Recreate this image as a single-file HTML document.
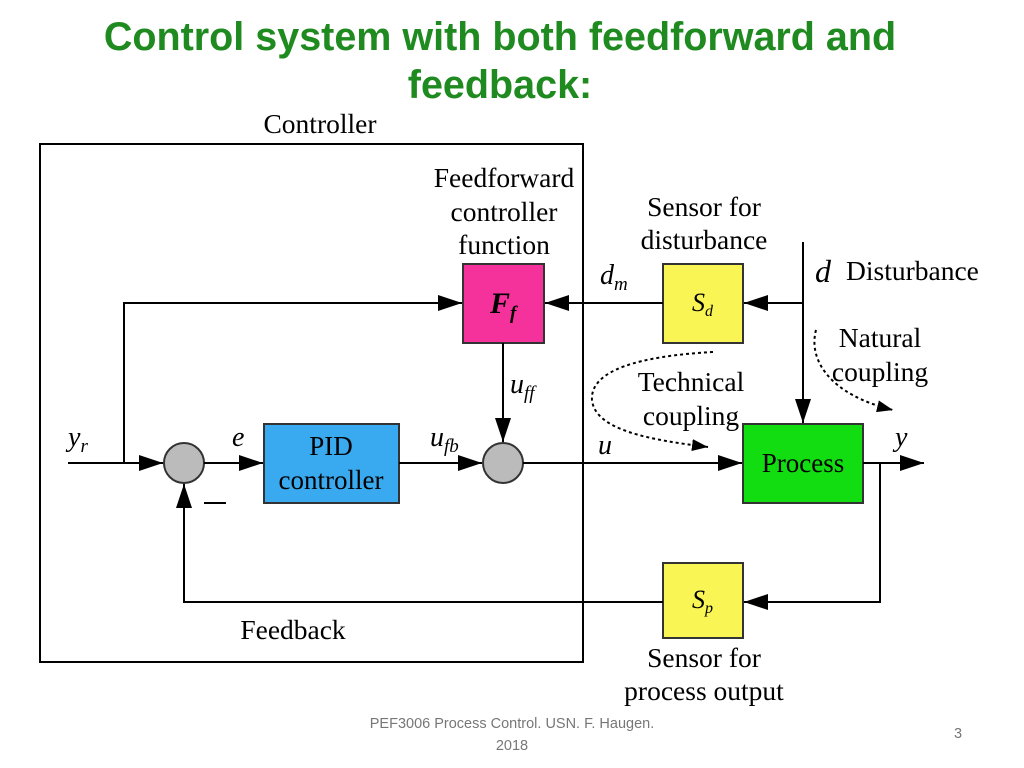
<!DOCTYPE html>
<html><head><style>body{margin:0;background:#fff}svg{display:block}</style></head>
<body>
<svg width="1024" height="768" xmlns="http://www.w3.org/2000/svg" font-family="Liberation Serif, serif">
<defs>
<marker id="b" markerWidth="24" markerHeight="16" refX="24" refY="8" orient="auto" markerUnits="userSpaceOnUse"><path d="M0,0 L24,8 L0,16 z" fill="#000"/></marker>
<marker id="c" markerWidth="16" markerHeight="12" refX="16" refY="6" orient="auto" markerUnits="userSpaceOnUse"><path d="M0,0 L16,6 L0,12 z" fill="#000"/></marker>
</defs>
<text x="500" y="50" text-anchor="middle" font-family="Liberation Sans, sans-serif" font-weight="bold" font-size="39.5" fill="#1f8a1f">Control system with both feedforward and</text>
<text x="500" y="98" text-anchor="middle" font-family="Liberation Sans, sans-serif" font-weight="bold" font-size="39.5" fill="#1f8a1f">feedback:</text>
<g font-size="27.5" fill="#000">
<text x="320" y="133" text-anchor="middle">Controller</text>
<text x="504" y="187" text-anchor="middle">Feedforward</text>
<text x="504" y="221" text-anchor="middle">controller</text>
<text x="504" y="254" text-anchor="middle">function</text>
<text x="704" y="216" text-anchor="middle">Sensor for</text>
<text x="704" y="249" text-anchor="middle">disturbance</text>
<text x="846" y="280">Disturbance</text>
<text x="880" y="347" text-anchor="middle">Natural</text>
<text x="880" y="381" text-anchor="middle">coupling</text>
<text x="691" y="391" text-anchor="middle">Technical</text>
<text x="691" y="425" text-anchor="middle">coupling</text>
<text x="293" y="639" text-anchor="middle">Feedback</text>
<text x="704" y="667" text-anchor="middle">Sensor for</text>
<text x="704" y="700" text-anchor="middle">process output</text>
</g>
<rect x="40" y="144" width="543" height="518" fill="none" stroke="#000" stroke-width="2"/>
<rect x="463" y="264" width="81" height="79" fill="#f5329b" stroke="#333" stroke-width="2"/>
<rect x="663" y="264" width="80" height="79" fill="#f8f555" stroke="#333" stroke-width="2"/>
<rect x="743" y="424" width="120" height="79" fill="#11dd11" stroke="#333" stroke-width="2"/>
<rect x="264" y="424" width="135" height="79" fill="#39aaf0" stroke="#333" stroke-width="2"/>
<rect x="663" y="563" width="80" height="75" fill="#f8f555" stroke="#333" stroke-width="2"/>
<circle cx="184" cy="463" r="20" fill="#bbb" stroke="#333" stroke-width="2"/>
<circle cx="503" cy="463" r="20" fill="#bbb" stroke="#333" stroke-width="2"/>
<g stroke="#000" stroke-width="2" fill="none">
<line x1="68" y1="463" x2="163" y2="463" marker-end="url(#b)"/>
<polyline points="124,463 124,303 462,303" marker-end="url(#b)"/>
<line x1="204" y1="463" x2="263" y2="463" marker-end="url(#b)"/>
<line x1="399" y1="463" x2="482" y2="463" marker-end="url(#b)"/>
<line x1="503" y1="343" x2="503" y2="442" marker-end="url(#b)"/>
<line x1="523" y1="463" x2="742" y2="463" marker-end="url(#b)"/>
<line x1="663" y1="303" x2="545" y2="303" marker-end="url(#b)"/>
<polyline points="803,242 803,423" marker-end="url(#b)"/>
<line x1="803" y1="303" x2="744" y2="303" marker-end="url(#b)"/>
<line x1="863" y1="463" x2="924" y2="463" marker-end="url(#b)"/>
<polyline points="880,463 880,602 744,602" marker-end="url(#b)"/>
<polyline points="663,602 184,602 184,484" marker-end="url(#b)"/>
<line x1="204" y1="503" x2="226" y2="503"/>
<path d="M713,352 C640,356 590,370 592,400 C595,430 650,440 708,447" stroke-dasharray="3,3" marker-end="url(#c)"/>
<path d="M816,330 C808,360 830,395 893,410" stroke-dasharray="3,3" marker-end="url(#c)"/>
</g>
<g font-size="28" font-style="italic">
<text x="490" y="313" font-weight="bold" font-size="30">F<tspan font-size="19" dy="6">f</tspan></text>
<text x="692" y="311" font-size="26">S<tspan font-size="16" dy="5">d</tspan></text>
<text x="692" y="608" font-size="26">S<tspan font-size="16" dy="5">p</tspan></text>
<text x="600" y="284">d<tspan font-size="19" dy="6">m</tspan></text>
<text x="815" y="282" font-size="32">d</text>
<text x="68" y="446">y<tspan font-size="19" dy="6">r</tspan></text>
<text x="232" y="446">e</text>
<text x="430" y="446">u<tspan font-size="19" dy="6">fb</tspan></text>
<text x="510" y="393">u<tspan font-size="19" dy="6">ff</tspan></text>
<text x="598" y="454">u</text>
<text x="895" y="446">y</text>
</g>
<g font-size="27" text-anchor="middle">
<text x="331" y="455">PID</text>
<text x="331" y="489">controller</text>
<text x="803" y="472">Process</text>
</g>
<g font-family="Liberation Sans, sans-serif" font-size="14.5" fill="#777" text-anchor="middle">
<text x="512" y="728">PEF3006 Process Control. USN. F. Haugen.</text>
<text x="512" y="750">2018</text>
<text x="958" y="738">3</text>
</g>
</svg>
</body></html>
